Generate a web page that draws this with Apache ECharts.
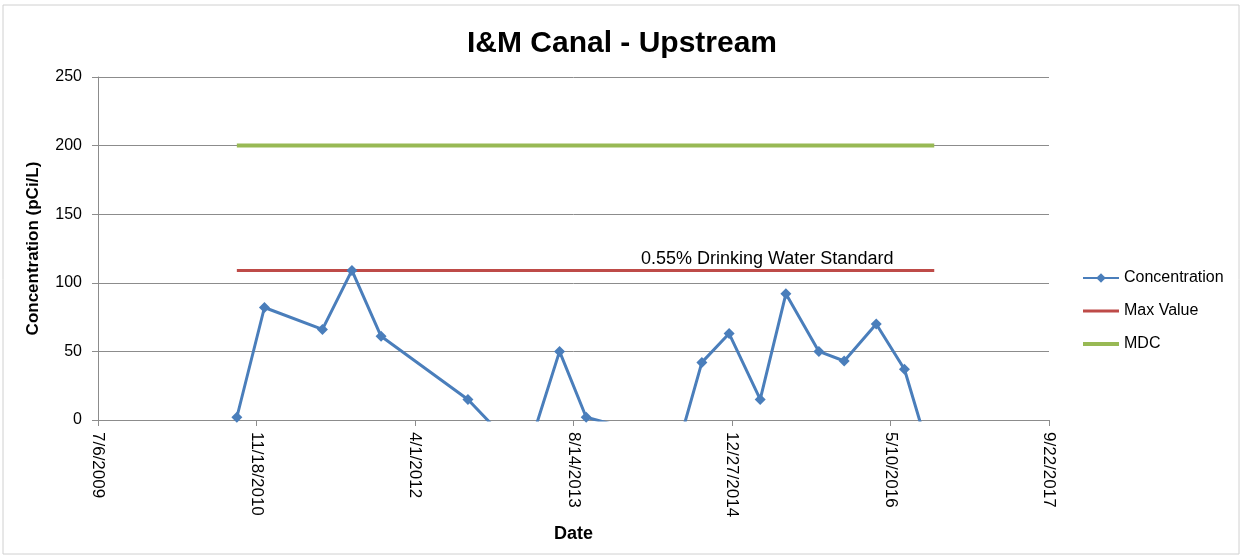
<!DOCTYPE html>
<html>
<head>
<meta charset="utf-8">
<script src="https://cdn.jsdelivr.net/npm/echarts@6/dist/echarts.min.js"></script>
<style>
  html, body { margin: 0; padding: 0; background: #fff; }
  #chart { width: 1244px; height: 557px; }
</style>
</head>
<body>
<div id="chart"></div>
<script>
// sample dates and measured concentration (pCi/L)
var sampleDates = ['2010-09-17', '2010-12-13', '2011-06-14', '2011-09-15', '2011-12-16',
  '2012-09-15', '2013-03-15', '2013-07-01', '2013-09-23', '2014-07-14',
  '2014-09-23', '2014-12-18', '2015-03-26', '2015-06-15', '2015-09-27',
  '2015-12-16', '2016-03-26', '2016-06-23', '2016-09-25'];
var concentration = [2, 82, 66, 109, 61, 15, -29, 50, 2, -16, 42, 63, 15, 92, 50, 43, 70, 37, -36];

// reference lines (start / end dates)
var refDates = ['2010-09-17', '2016-09-25'];
var maxValue = [109, 109];
var mdcValue = [200, 200];

// axis settings
var axisStart = '2009-07-06';
var tickDays = 500;
var yTicks = [0, 50, 100, 150, 200, 250];

var DAY = 86400000;
var t0 = Date.parse(axisStart + 'T00:00:00Z');
function dayOf(s) {
  return Math.round((Date.parse(s + 'T00:00:00Z') - t0) / DAY);
}
function fmt(d) {
  var dt = new Date(t0 + d * DAY);
  return (dt.getUTCMonth() + 1) + '/' + dt.getUTCDate() + '/' + dt.getUTCFullYear();
}
function pairs(ds, vs) {
  return ds.map(function (d, i) { return [dayOf(d), vs[i]]; });
}

var font = '"Liberation Sans", Arial, sans-serif';
var gridColor = '#8c8c8c';

var chart = echarts.init(document.getElementById('chart'));
var option = {
  animation: false,
  textStyle: { fontFamily: font },
  title: {
    text: 'I&M Canal - Upstream',
    left: 'center',
    top: 24,
    textStyle: { fontSize: 30, fontWeight: 'bold', color: '#000', fontFamily: font }
  },
  graphic: [{
    type: 'rect',
    shape: { x: 3, y: 5, width: 1236, height: 549 },
    style: { fill: 'none', stroke: '#d0d0d0', lineWidth: 1 }
  }],
  legend: {
    orient: 'vertical',
    left: 1077,
    top: 265,
    itemWidth: 36,
    itemHeight: 12,
    itemGap: 17,
    textStyle: { fontSize: 16, color: '#000', fontFamily: font },
    data: [
      { name: 'Concentration' },
      { name: 'Max Value', icon: 'path://M0,0L36,0L36,3L0,3Z' },
      { name: 'MDC', icon: 'path://M0,0L36,0L36,4L0,4Z' }
    ]
  },
  grid: { left: 98, right: 195, top: 77, bottom: 137 },
  xAxis: {
    type: 'value',
    min: 0,
    max: tickDays * 6,
    interval: tickDays,
    name: 'Date',
    nameLocation: 'middle',
    nameGap: 101,
    nameTextStyle: { fontSize: 18, fontWeight: 'bold', color: '#000' },
    axisLine: { lineStyle: { color: gridColor } },
    axisTick: { show: true, length: 6, lineStyle: { color: gridColor } },
    splitLine: { show: false },
    axisLabel: {
      rotate: -90,
      fontSize: 17,
      color: '#000',
      margin: 12,
      formatter: function (v) { return fmt(v); }
    }
  },
  yAxis: {
    type: 'value',
    min: yTicks[0],
    max: yTicks[yTicks.length - 1],
    interval: 50,
    name: 'Concentration (pCi/L)',
    nameLocation: 'middle',
    nameGap: 56,
    nameTextStyle: { fontSize: 17, fontWeight: 'bold', color: '#000' },
    axisLine: { show: true, lineStyle: { color: gridColor } },
    axisTick: { show: true, length: 6, lineStyle: { color: gridColor } },
    splitLine: { lineStyle: { color: gridColor, width: 1 } },
    axisLabel: { fontSize: 16, color: '#000', margin: 16 }
  },
  series: [
    {
      name: 'Concentration',
      type: 'line',
      data: pairs(sampleDates, concentration),
      symbol: 'diamond',
      symbolSize: 11,
      showAllSymbol: true,
      clip: true,
      z: 5,
      lineStyle: { color: '#4a7ebb', width: 3 },
      itemStyle: { color: '#4a7ebb' }
    },
    {
      name: 'Max Value',
      type: 'line',
      data: pairs(refDates, maxValue),
      symbol: 'none',
      lineStyle: { color: '#be4b48', width: 3 },
      itemStyle: { color: '#be4b48' },
      markPoint: {
        symbol: 'rect',
        symbolSize: 0,
        data: [{ coord: [dayOf('2015-04-17'), 117] }],
        label: {
          show: true,
          position: 'inside',
          formatter: '0.55% Drinking Water Standard',
          fontSize: 18,
          color: '#000'
        }
      }
    },
    {
      name: 'MDC',
      type: 'line',
      data: pairs(refDates, mdcValue),
      symbol: 'none',
      lineStyle: { color: '#98b954', width: 4 },
      itemStyle: { color: '#98b954' }
    }
  ]
};
chart.setOption(option);
window.addEventListener('resize', function () {
  chart.resize();
});
</script>
</body>
</html>
